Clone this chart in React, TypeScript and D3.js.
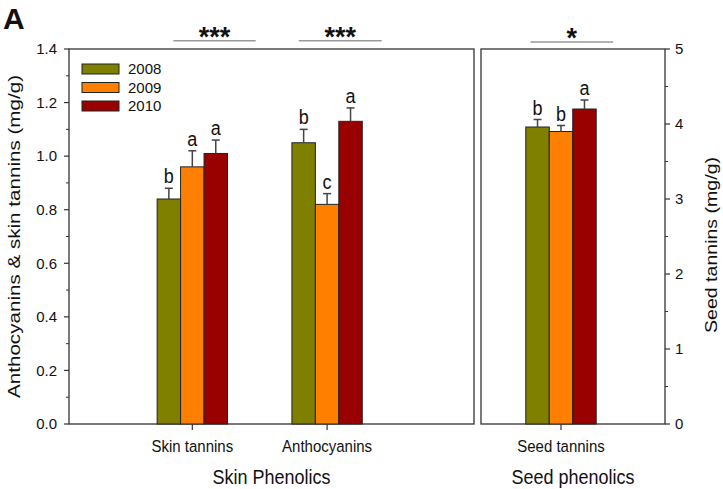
import React from "react";
import * as d3 from "d3";

const years = ["2008", "2009", "2010"];
const colors = ["#808000", "#FF8000", "#990000"];

const skinCategories = ["Skin tannins", "Anthocyanins"];
const skinValues = [
  [0.84, 0.96, 1.01],
  [1.05, 0.82, 1.13],
];
const skinErrors = [
  [0.04, 0.06, 0.05],
  [0.05, 0.04, 0.05],
];
const skinLetters = [
  ["b", "a", "a"],
  ["b", "c", "a"],
];

const seedCategories = ["Seed tannins"];
const seedValues = [[3.96, 3.9, 4.2]];
const seedErrors = [[0.1, 0.08, 0.12]];
const seedLetters = [["b", "b", "a"]];

const leftTicks = [0, 0.2, 0.4, 0.6, 0.8, 1.0, 1.2, 1.4];
const rightTicks = [0, 1, 2, 3, 4, 5];

const skinSig = [
  { from: -0.14, to: 0.47, label: "***" },
  { from: 0.79, to: 1.405, label: "***" },
];
const seedSig = [{ from: -0.227, to: 0.386, label: "*" }];

const W = 723;
const H = 489;
const top = 49;
const bottom = 424;
const leftX0 = 69;
const leftX1 = 474;
const rightX0 = 481;
const rightX1 = 665;

const FONT = "'Liberation Sans', Arial, sans-serif";
const AXIS = "#333";

const yLeft = d3.scaleLinear().domain([0, 1.4]).range([bottom, top]);
const yRight = d3.scaleLinear().domain([0, 5]).range([bottom, top]);
const xLeft = d3.scaleLinear().domain([-0.915, 2.09]).range([leftX0, leftX1]);
const xRight = d3.scaleLinear().domain([-0.593, 0.771]).range([rightX0, rightX1]);
const barW = 0.174;

function T({ x, y, sy = 1, size, anchor = "start", weight = "normal", dy, children }: any) {
  return (
    <text
      transform={`translate(${x},${y}) scale(1,${sy})`}
      dy={dy}
      textAnchor={anchor}
      fontSize={size}
      fontWeight={weight}
      fontFamily={FONT}
      fill="#111"
    >
      {children}
    </text>
  );
}

function Bars({ x, y, cats, values, errors, letters }: any) {
  const unit = x(1) - x(0);
  const bw = barW * unit;
  return (
    <g>
      {cats.map((c: string, ci: number) => (
        <g key={c}>
          {values[ci].map((v: number, si: number) => {
            const cx = x(ci) + (si - 1) * bw;
            const x0 = cx - bw / 2;
            const yt = y(v);
            const ye = y(v + errors[ci][si]);
            return (
              <g key={si}>
                <rect x={x0} y={yt} width={bw} height={y(0) - yt} fill={colors[si]} stroke="#222" strokeWidth={1} />
                <line x1={cx} x2={cx} y1={yt} y2={ye} stroke="#444" strokeWidth={1.5} />
                <line x1={cx - 4} x2={cx + 4} y1={ye} y2={ye} stroke="#444" strokeWidth={1.5} />
                <T x={cx} y={ye - 5} sy={1.12} size={18} anchor="middle">
                  {letters[ci][si]}
                </T>
              </g>
            );
          })}
          <line x1={x(ci)} x2={x(ci)} y1={bottom} y2={bottom + 6} stroke={AXIS} strokeWidth={1.2} />
          <T x={x(ci)} y={451.5} sy={1.05} size={15} anchor="middle">
            {c}
          </T>
        </g>
      ))}
    </g>
  );
}

function Sig({ x, items, ly }: any) {
  return (
    <g>
      {items.map((s: any, i: number) => {
        const cx = (x(s.from) + x(s.to)) / 2;
        return (
          <g key={i}>
            <line x1={x(s.from)} x2={x(s.to)} y1={ly} y2={ly} stroke="#999" strokeWidth={1.5} />
            <T x={cx} y={ly + 5} sy={1.05} size={27} weight="bold" anchor="middle">
              {s.label}
            </T>
          </g>
        );
      })}
    </g>
  );
}

export default function App() {
  const leftMinor = d3.range(0.1, 1.4, 0.2);
  const rightMinor = d3.range(0.5, 5, 1);
  return (
    <svg width={W} height={H} style={{ position: "absolute", left: 0, top: 0, background: "#fff" }}>
      <rect x={0} y={0} width={W} height={H} fill="#fff" />
      <T x={3} y={29} size={30} weight="bold">A</T>

      <rect x={leftX0} y={top} width={leftX1 - leftX0} height={bottom - top} fill="none" stroke={AXIS} strokeWidth={1.3} />
      <rect x={rightX0} y={top} width={rightX1 - rightX0} height={bottom - top} fill="none" stroke={AXIS} strokeWidth={1.3} />

      {leftTicks.map((t) => (
        <g key={t}>
          <line x1={leftX0 - 5} x2={leftX0} y1={yLeft(t)} y2={yLeft(t)} stroke={AXIS} strokeWidth={1.2} />
          <T x={57} y={yLeft(t)} dy="0.35em" size={15} anchor="end">
            {t.toFixed(1)}
          </T>
        </g>
      ))}
      {leftMinor.map((t) => (
        <line key={t} x1={leftX0 - 3} x2={leftX0} y1={yLeft(t)} y2={yLeft(t)} stroke={AXIS} strokeWidth={1} />
      ))}

      {rightTicks.map((t) => (
        <g key={t}>
          <line x1={rightX1} x2={rightX1 + 5} y1={yRight(t)} y2={yRight(t)} stroke={AXIS} strokeWidth={1.2} />
          <T x={675} y={yRight(t)} dy="0.35em" size={15}>
            {t}
          </T>
        </g>
      ))}
      {rightMinor.map((t) => (
        <line key={t} x1={rightX1} x2={rightX1 + 3} y1={yRight(t)} y2={yRight(t)} stroke={AXIS} strokeWidth={1} />
      ))}

      <Bars x={xLeft} y={yLeft} cats={skinCategories} values={skinValues} errors={skinErrors} letters={skinLetters} />
      <Bars x={xRight} y={yRight} cats={seedCategories} values={seedValues} errors={seedErrors} letters={seedLetters} />

      <Sig x={xLeft} items={skinSig} ly={40.7} />
      <Sig x={xRight} items={seedSig} ly={42} />

      {years.map((yv, i) => (
        <g key={yv}>
          <rect x={82} y={64 + i * 18.5} width={37} height={10} fill={colors[i]} stroke="#222" strokeWidth={1} />
          <T x={128} y={69 + i * 18.5} dy="0.35em" size={15}>{yv}</T>
        </g>
      ))}

      <T x={(leftX0 + leftX1) / 2} y={484} sy={1.1} size={18} anchor="middle">Skin Phenolics</T>
      <T x={(rightX0 + rightX1) / 2} y={484} sy={1.1} size={18} anchor="middle">Seed phenolics</T>

      <text transform={`translate(20,${(top + bottom) / 2}) rotate(-90)`} textAnchor="middle" fontSize={17} fontFamily={FONT} fill="#111" textLength={323} lengthAdjust="spacingAndGlyphs">
        Anthocyanins &amp; skin tannins (mg/g)
      </text>
      <text transform={`translate(717,245) rotate(-90)`} textAnchor="middle" fontSize={17} fontFamily={FONT} fill="#111" textLength={176} lengthAdjust="spacingAndGlyphs">
        Seed tannins (mg/g)
      </text>
    </svg>
  );
}
